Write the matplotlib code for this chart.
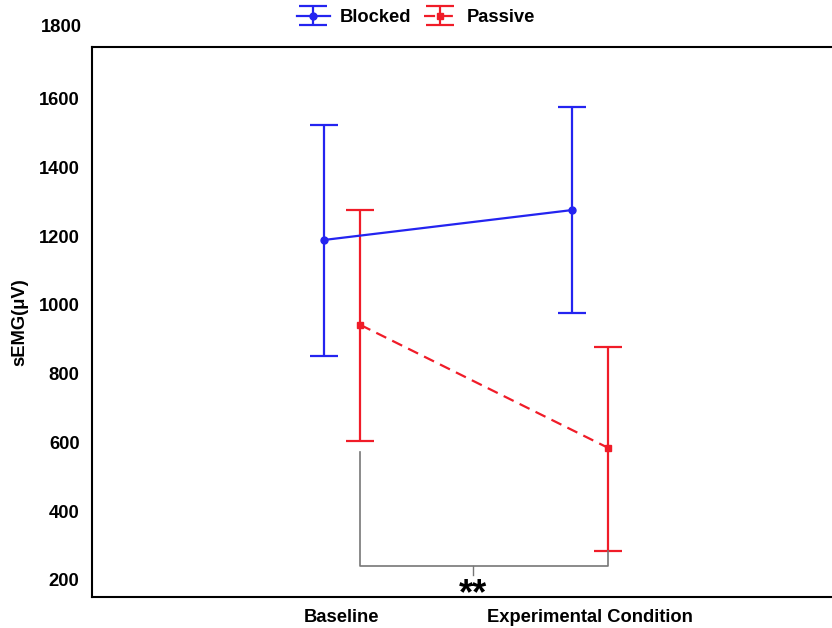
import numpy as np
import matplotlib
matplotlib.use("Agg")
import matplotlib.pyplot as plt

plt.rcParams['font.family'] = ['Liberation Sans', 'DejaVu Sans']

conditions = ["Baseline", "Experimental Condition"]
blocked_mean = [1189, 1276]
blocked_upper = [1524, 1576]
blocked_lower = [852, 977]
passive_mean = [942, 584]
passive_upper = [1276, 878]
passive_lower = [604, 284]
yticks = [200, 400, 600, 800, 1000, 1200, 1400, 1600]

blue = "#2424f0"
red = "#f01c28"
off = 0.074
fs = 13.2

x = np.arange(len(conditions))
fig = plt.figure(figsize=(8.32, 6.28), dpi=100)
ax = fig.add_axes([0.1106, 0.0494, 0.8966, 0.8758])

bm = np.array(blocked_mean)
pm = np.array(passive_mean)
b_err = [bm - np.array(blocked_lower), np.array(blocked_upper) - bm]
p_err = [pm - np.array(passive_lower), np.array(passive_upper) - pm]

ax.errorbar(x - off, bm, yerr=b_err, color=blue, marker='o', markersize=5,
            linewidth=1.6, elinewidth=1.6, capsize=10, capthick=1.6, label="Blocked")
ax.errorbar(x + off, pm, yerr=p_err, color=red, marker='s', markersize=5,
            linewidth=1.6, linestyle='--', dashes=(5, 3), elinewidth=1.6,
            capsize=10, capthick=1.6, label="Passive")

# significance bracket
bx0 = x[0] + off
bx1 = x[1] + off
ybot = 241
ax.plot([bx0, bx0, bx1, bx1], [572, ybot, ybot, passive_lower[1]], color="#777777", linewidth=1.2)
xm = 0.53
ax.plot([xm, xm], [ybot, 215], color="#777777", linewidth=1.0)
ax.text(xm, 158, "**", ha='center', va='center', fontsize=26, fontweight='bold')

ax.set_xlim(-1.008, 2.0)
ax.set_ylim(150.5, 1750.6)
ax.set_xticks(x)
ax.set_xticklabels(conditions, fontsize=fs, fontweight='bold')
ax.set_yticks(yticks)
ax.set_yticklabels([str(v) for v in yticks], fontsize=fs, fontweight='bold')
ax.tick_params(axis='both', length=0)
ax.tick_params(axis='y', pad=9)
ax.tick_params(axis='x', pad=9)
ax.text(-0.013, 1806, "1800", transform=ax.get_yaxis_transform(), ha='right', va='center',
        fontsize=fs, fontweight='bold', clip_on=False)
ax.set_ylabel("sEMG(μV)", fontsize=fs, fontweight='bold')
ax.yaxis.set_label_coords(-0.085, 0.5)

for s in ['left', 'top', 'bottom']:
    ax.spines[s].set_linewidth(1.5)
ax.spines['right'].set_visible(False)

fig.legend(loc='upper center', bbox_to_anchor=(0.5, 1.012), ncol=2, frameon=False,
           prop={'size': fs, 'weight': 'bold'}, handlelength=1.8, columnspacing=0.7,
           handletextpad=0.55)

fig.savefig("out.png", dpi=100)
